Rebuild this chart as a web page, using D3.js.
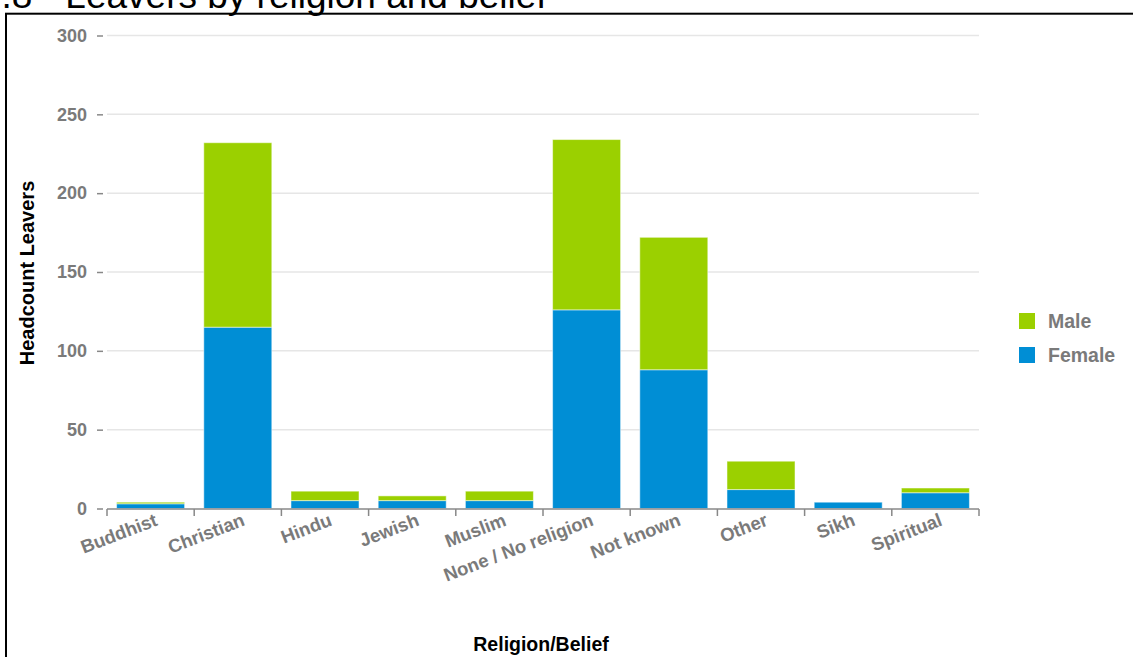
<!DOCTYPE html>
<html>
<head>
<meta charset="utf-8">
<script src="https://cdn.jsdelivr.net/npm/d3@7"></script>
<style>
  html, body { margin: 0; padding: 0; background: #fff; overflow: hidden; }
  svg { display: block; }
  text { font-family: "Liberation Sans", Arial, sans-serif; }
</style>
</head>
<body>
<script>
const categories = ["Buddhist", "Christian", "Hindu", "Jewish", "Muslim", "None / No religion", "Not known", "Other", "Sikh", "Spiritual"];
const female = [3, 115, 5, 5, 5, 126, 88, 12, 4, 10];
const male = [1, 117, 6, 3, 6, 108, 84, 18, 0, 3];
const yTicks = [0, 50, 100, 150, 200, 250, 300];
const seriesNames = ["Female", "Male"];
const seriesColors = ["#008ED5", "#9BD000"];

const W = 1133, H = 657;
const svg = d3.select("body").append("svg").attr("width", W).attr("height", H);

// Title (partially cut off at top, as in the reference)
svg.append("text")
  .attr("x", -19).attr("y", 8)
  .attr("font-size", 37).attr("fill", "#000")
  .text("9.8 - Leavers by religion and belief");

// Frame
svg.append("rect")
  .attr("x", 6).attr("y", 13.7).attr("width", 1300).attr("height", 800)
  .attr("fill", "none").attr("stroke", "#000").attr("stroke-width", 2);

const x = d3.scaleBand().domain(categories).range([107, 979]).paddingInner(0.22).paddingOuter(0.11);
const xEdges = d3.scaleLinear().domain([0, categories.length]).range([107, 979]);
const y = d3.scaleLinear().domain([0, 300]).range([508.5, 35.5]);

// Gridlines
svg.append("g").selectAll("line").data(yTicks.filter(d => d > 0)).join("line")
  .attr("x1", 107).attr("x2", 979)
  .attr("y1", d => y(d)).attr("y2", d => y(d))
  .attr("stroke", "#e6e6e6").attr("stroke-width", 1.5);

// Y axis (tick dashes + labels, no domain line)
const yAxis = d3.axisLeft(y).tickValues(yTicks).tickSize(6).tickPadding(10);
const gy = svg.append("g").attr("transform", "translate(103,0)").call(yAxis);
gy.select(".domain").remove();
gy.selectAll(".tick line").attr("stroke", "#888").attr("stroke-width", 1.5);
gy.selectAll(".tick text")
  .attr("font-family", "'Liberation Sans', Arial, sans-serif")
  .attr("font-size", 18).attr("font-weight", "bold").attr("fill", "#7a7a7a");

// Stacked data
const rows = categories.map((c, i) => ({ cat: c, Female: female[i], Male: male[i] }));
const stack = d3.stack().keys(seriesNames)(rows);

svg.append("g").selectAll("g").data(stack).join("g")
  .attr("fill", (d, i) => seriesColors[i])
  .selectAll("rect").data(d => d).join("rect")
  .attr("x", d => x(d.data.cat))
  .attr("width", x.bandwidth())
  .attr("y", d => y(d[1]))
  .attr("height", d => Math.max(0, y(d[0]) - y(d[1])))
  .attr("stroke", "#ffffff").attr("stroke-opacity", 0.5).attr("stroke-width", 1);

// X axis line with ticks at band edges
const gx = svg.append("g");
gx.append("line").attr("x1", 107).attr("x2", 979).attr("y1", 509).attr("y2", 509)
  .attr("stroke", "#888").attr("stroke-width", 1.5);
gx.selectAll("line.tk").data(d3.range(categories.length + 1)).join("line")
  .attr("class", "tk")
  .attr("x1", d => xEdges(d)).attr("x2", d => xEdges(d))
  .attr("y1", 509).attr("y2", 516)
  .attr("stroke", "#888").attr("stroke-width", 1.5);

// X labels rotated
svg.append("g").selectAll("text").data(categories).join("text")
  .attr("transform", d => `translate(${x(d) + x.bandwidth() / 2 + 8},525) rotate(-21)`)
  .attr("text-anchor", "end")
  .attr("font-size", 18.5).attr("font-weight", "bold").attr("fill", "#7a7a7a")
  .text(d => d);

// Axis titles
svg.append("text")
  .attr("transform", "translate(34,273) rotate(-90)")
  .attr("text-anchor", "middle")
  .attr("font-size", 20).attr("font-weight", "bold").attr("fill", "#000")
  .text("Headcount Leavers");

svg.append("text")
  .attr("x", 541).attr("y", 651)
  .attr("text-anchor", "middle")
  .attr("font-size", 19.5).attr("font-weight", "bold").attr("fill", "#000")
  .text("Religion/Belief");

// Legend (Male on top, Female below)
const legendItems = [
  { name: "Male", color: seriesColors[1] },
  { name: "Female", color: seriesColors[0] }
];
const lg = svg.append("g").selectAll("g").data(legendItems).join("g")
  .attr("transform", (d, i) => `translate(1019,${313 + i * 34})`);
lg.append("rect").attr("width", 16).attr("height", 16).attr("fill", d => d.color);
lg.append("text").attr("x", 29).attr("y", 14.5)
  .attr("font-size", 19.5).attr("font-weight", "bold").attr("fill", "#7a7a7a")
  .text(d => d.name);
</script>
</body>
</html>
